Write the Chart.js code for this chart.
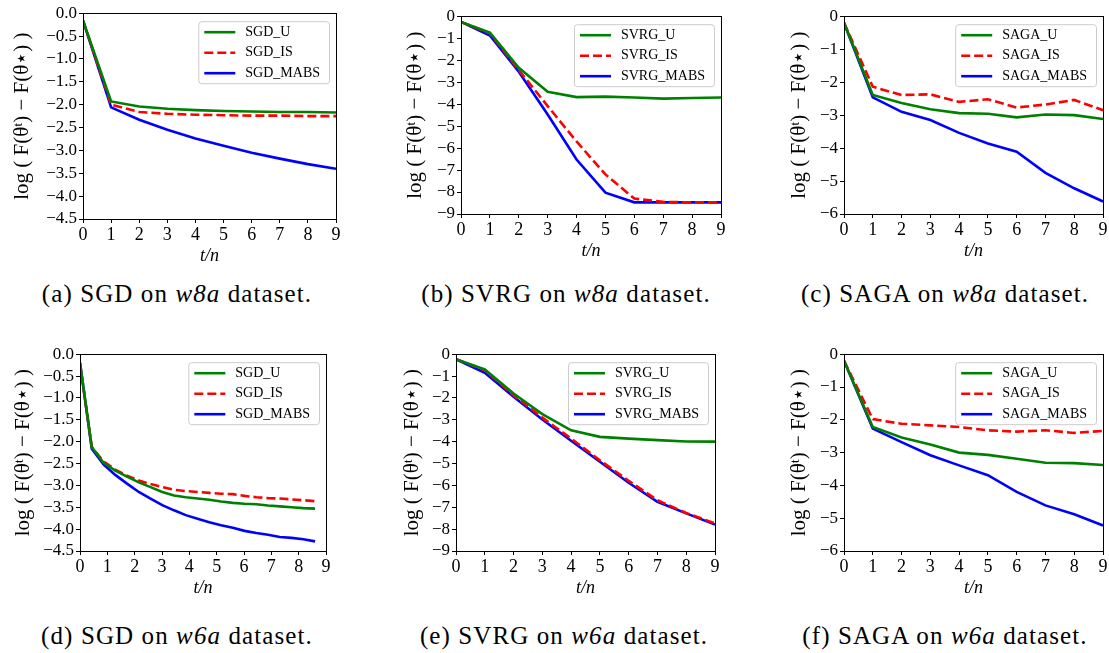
<!DOCTYPE html>
<html><head><meta charset="utf-8">
<script src="https://cdn.jsdelivr.net/npm/chart.js@4.4.1/dist/chart.umd.min.js"></script>
<style>
body{margin:0;width:1109px;height:653px;background:#fff;position:relative;overflow:hidden;font-family:'Liberation Serif',serif;color:#000;}
canvas{position:absolute;}
.cap{position:absolute;font-size:25px;letter-spacing:1.1px;white-space:nowrap;transform:translate(-50%,-50%);}
</style></head><body>
<script>
// ---------- data ----------
const xSteps = [0,1,2,3,4,5,6,7,8,9];
const xSgdW6a = [0,0.43,0.86,1.29,1.72,2.15,2.58,3.01,3.44,3.87,4.3,4.73,5.16,5.59,6.02,6.45,6.88,7.31,7.74,8.17,8.6];
const xTicks = [0,1,2,3,4,5,6,7,8,9];
const yTicksSGD = [0,-0.5,-1,-1.5,-2,-2.5,-3,-3.5,-4,-4.5];
const yTicksSVRG = [0,-1,-2,-3,-4,-5,-6,-7,-8,-9];
const yTicksSAGA = [0,-1,-2,-3,-4,-5,-6];

const sgdW8aU    = [-0.16,-1.93,-2.04,-2.09,-2.12,-2.14,-2.15,-2.16,-2.16,-2.17];
const sgdW8aIS   = [-0.16,-2.00,-2.16,-2.20,-2.22,-2.23,-2.24,-2.24,-2.25,-2.25];
const sgdW8aMABS = [-0.16,-2.06,-2.33,-2.55,-2.74,-2.90,-3.05,-3.18,-3.30,-3.40];

const svrgW8aU    = [-0.26,-0.75,-2.35,-3.44,-3.68,-3.66,-3.70,-3.75,-3.72,-3.70];
const svrgW8aIS   = [-0.26,-0.78,-2.45,-4.09,-5.70,-7.20,-8.30,-8.45,-8.47,-8.47];
const svrgW8aMABS = [-0.26,-0.88,-2.53,-4.47,-6.52,-8.03,-8.47,-8.47,-8.47,-8.47];

const sagaW8aU    = [-0.20,-2.39,-2.63,-2.82,-2.94,-2.96,-3.07,-2.98,-3.00,-3.12];
const sagaW8aIS   = [-0.20,-2.14,-2.39,-2.37,-2.60,-2.52,-2.77,-2.68,-2.54,-2.85];
const sagaW8aMABS = [-0.20,-2.46,-2.90,-3.15,-3.54,-3.86,-4.11,-4.75,-5.22,-5.62];

const sgdW6aU    = [-0.2,-2.12,-2.48,-2.66,-2.80,-2.93,-3.04,-3.15,-3.23,-3.27,-3.30,-3.33,-3.37,-3.40,-3.42,-3.43,-3.46,-3.48,-3.50,-3.52,-3.53];
const sgdW6aIS   = [-0.2,-2.12,-2.45,-2.64,-2.78,-2.89,-2.97,-3.04,-3.10,-3.13,-3.15,-3.17,-3.19,-3.20,-3.24,-3.27,-3.29,-3.30,-3.32,-3.34,-3.36];
const sgdW6aMABS = [-0.2,-2.16,-2.52,-2.76,-2.96,-3.15,-3.30,-3.45,-3.57,-3.68,-3.76,-3.84,-3.91,-3.97,-4.04,-4.09,-4.13,-4.18,-4.20,-4.23,-4.28];

const svrgW6aU    = [-0.23,-0.70,-1.80,-2.74,-3.48,-3.78,-3.86,-3.93,-3.99,-4.00];
const svrgW6aIS   = [-0.23,-0.73,-1.88,-2.90,-3.86,-4.85,-5.79,-6.68,-7.26,-7.74];
const svrgW6aMABS = [-0.23,-0.85,-1.95,-2.99,-3.96,-4.92,-5.88,-6.75,-7.28,-7.79];

const sagaW6aU    = [-0.20,-2.22,-2.54,-2.75,-3.00,-3.07,-3.19,-3.31,-3.32,-3.38];
const sagaW6aIS   = [-0.20,-1.98,-2.12,-2.17,-2.22,-2.32,-2.36,-2.32,-2.40,-2.34];
const sagaW6aMABS = [-0.20,-2.27,-2.68,-3.08,-3.39,-3.69,-4.20,-4.61,-4.88,-5.22];

const captions = [
  ['(a) SGD on ', 'w8a', ' dataset.'],
  ['(b) SVRG on ', 'w8a', ' dataset.'],
  ['(c) SAGA on ', 'w8a', ' dataset.'],
  ['(d) SGD on ', 'w6a', ' dataset.'],
  ['(e) SVRG on ', 'w6a', ' dataset.'],
  ['(f) SAGA on ', 'w6a', ' dataset.']
];
const yTitle = 'log ( F(θᵗ) − F(θ⋆) )';
const xTitle = 't/n';

// ---------- layout ----------
const FONT = "'Liberation Serif', 'DejaVu Serif', serif";
const panels = [
  {m:'SGD',  x:xSteps,  s:[sgdW8aU,sgdW8aIS,sgdW8aMABS],    yt:yTicksSGD,  dec:1, L:83,  T:13,  R:336,  B:219, tx:21,  cx:177, cy:294},
  {m:'SVRG', x:xSteps,  s:[svrgW8aU,svrgW8aIS,svrgW8aMABS], yt:yTicksSVRG, dec:0, L:461, T:16,  R:721,  B:214, tx:414, cx:566, cy:294},
  {m:'SAGA', x:xSteps,  s:[sagaW8aU,sagaW8aIS,sagaW8aMABS], yt:yTicksSAGA, dec:0, L:844, T:16,  R:1103, B:214, tx:798, cx:945, cy:294},
  {m:'SGD',  x:xSgdW6a, s:[sgdW6aU,sgdW6aIS,sgdW6aMABS],    yt:yTicksSGD,  dec:1, L:80,  T:354, R:326,  B:551, tx:22,  cx:177, cy:636},
  {m:'SVRG', x:xSteps,  s:[svrgW6aU,svrgW6aIS,svrgW6aMABS], yt:yTicksSVRG, dec:0, L:456, T:354, R:715,  B:551, tx:411, cx:564, cy:636},
  {m:'SAGA', x:xSteps,  s:[sagaW6aU,sagaW6aIS,sagaW6aMABS], yt:yTicksSAGA, dec:0, L:844, T:354, R:1103, B:551, tx:798, cx:945, cy:636}
];
const colors = ['#008000','#ff0000','#0000ff'];
const suffix = ['_U','_IS','_MABS'];

const frame = {
  id:'frame',
  afterDatasetsDraw(chart){
    const a = chart.chartArea, c = chart.ctx;
    c.save();
    c.strokeStyle = '#000'; c.lineWidth = 1;
    c.strokeRect(Math.round(a.left)+0.5, Math.round(a.top)+0.5, Math.round(a.right-a.left), Math.round(a.bottom-a.top));
    // legend box
    const ds = chart.data.datasets;
    c.font = '14px ' + FONT;
    let mw = 0; ds.forEach(d => mw = Math.max(mw, c.measureText(d.label).width));
    const w = 48 + mw + 8, h = 62;
    const x0 = a.right - 7 - w, y0 = a.top + 8;
    c.beginPath(); c.roundRect(x0+0.5, y0+0.5, w, h, 3);
    c.fillStyle = 'rgba(255,255,255,0.85)'; c.fill();
    c.strokeStyle = '#cccccc'; c.stroke();
    ds.forEach((d,i) => {
      const yy = y0 + 11 + i*20.5;
      c.beginPath(); c.setLineDash(d.borderDash || []);
      c.strokeStyle = d.borderColor; c.lineWidth = d.borderWidth;
      c.moveTo(x0+6, yy); c.lineTo(x0+37, yy); c.stroke();
      c.setLineDash([]);
      c.fillStyle = '#000'; c.textBaseline = 'middle'; c.textAlign = 'left';
      c.fillText(d.label, x0+47, yy);
    });
    c.restore();
  }
};

panels.forEach((p, idx) => {
  const cl = p.tx - 11, ct = p.T - 12, pt = 12, pr = 6, xh = 50;
  const cw = p.R + pr - cl, chh = p.B + xh - ct;
  const cv = document.createElement('canvas');
  cv.width = cw; cv.height = chh;
  cv.style.left = cl + 'px'; cv.style.top = ct + 'px';
  cv.style.width = cw + 'px'; cv.style.height = chh + 'px';
  document.body.appendChild(cv);
  const yW = p.L - cl;
  const datasets = p.s.map((arr, i) => ({
    label: p.m + suffix[i],
    data: arr.map((v, k) => ({x: p.x[k], y: v})),
    borderColor: colors[i], backgroundColor: colors[i],
    borderWidth: 2.6, borderDash: i === 1 ? [9,4] : undefined,
    pointRadius: 0, tension: 0, fill: false
  }));
  new Chart(cv, {
    type: 'line',
    data: {datasets},
    plugins: [frame],
    options: {
      responsive: false, animation: false, devicePixelRatio: 1,
      layout: {padding: {left: 0, top: pt, right: pr, bottom: 0}},
      plugins: {legend: {display: false}, tooltip: {enabled: false}},
      scales: {
        x: {
          type: 'linear', min: 0, max: 9,
          afterBuildTicks: s => { s.ticks = xTicks.map(v => ({value: v})); },
          afterFit: s => { s.height = xh; },
          ticks: {font: {family: FONT, size: 18}, color: '#000', padding: 1, maxRotation: 0, autoSkip: false, callback: v => String(v)},
          grid: {drawOnChartArea: false, tickLength: 4, color: '#000', tickColor: '#000'},
          border: {display: true, color: '#000', width: 1},
          title: {display: true, text: xTitle, font: {family: FONT, size: 18, style: 'italic'}, color: '#000', padding: {top: 0, bottom: 2}}
        },
        y: {
          type: 'linear', min: p.yt[p.yt.length-1], max: 0,
          afterBuildTicks: s => { s.ticks = p.yt.map(v => ({value: v})); },
          afterFit: s => { s.width = yW; },
          ticks: {font: {family: FONT, size: 17}, color: '#000', padding: 2, autoSkip: false,
            callback: v => (v < 0 ? '\u2212' : '') + Math.abs(v).toFixed(p.dec)},
          grid: {drawOnChartArea: false, tickLength: 4, color: '#000', tickColor: '#000'},
          border: {display: true, color: '#000', width: 1},
          title: {display: true, text: yTitle, font: {family: FONT, size: 21}, color: '#000', padding: {top: 0, bottom: 0}}
        }
      }
    }
  });
  const cap = document.createElement('div');
  cap.className = 'cap';
  cap.style.left = p.cx + 'px'; cap.style.top = p.cy + 'px';
  const c = captions[idx];
  cap.appendChild(document.createTextNode(c[0]));
  const it = document.createElement('i'); it.textContent = c[1]; cap.appendChild(it);
  cap.appendChild(document.createTextNode(c[2]));
  document.body.appendChild(cap);
});
</script>
</body></html>
